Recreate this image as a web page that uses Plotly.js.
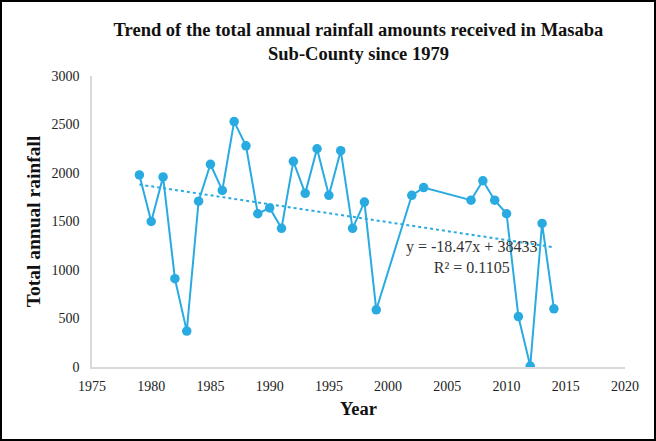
<!DOCTYPE html>
<html>
<head>
<meta charset="utf-8">
<script src="https://cdn.plot.ly/plotly-3.0.1.min.js"></script>
<style>
  html, body { margin: 0; padding: 0; background: #fff; }
  #frame { width: 656px; height: 441px; box-sizing: border-box; border: 2px solid #000; }
  #plotDiv { width: 652px; height: 437px; }
</style>
</head>
<body>
<div id="frame"><div id="plotDiv"></div></div>
<script>
// years with recorded totals (gaps are missing years)
const years = [1979, 1980, 1981, 1982, 1983, 1984, 1985, 1986, 1987, 1988,
    1989, 1990, 1991, 1992, 1993, 1994, 1995, 1996, 1997, 1998,
    1999, 2002, 2003, 2007, 2008, 2009, 2010, 2011, 2012, 2013, 2014];
const rainfall = [1980, 1500, 1960, 910, 370, 1710, 2090, 1820, 2530, 2280,
    1580, 1640, 1430, 2120, 1790, 2250, 1770, 2230, 1430, 1700,
    590, 1770, 1850, 1720, 1920, 1720, 1580, 520, 10, 1480, 600];

// linear trend as printed on the chart
const trendSlope = -18.47;
const trendIntercept = 38433;
const trendR2 = 0.1105;

const blue = '#29abe2';
const serif = '"Liberation Serif", "Times New Roman", serif';

const trendX = [years[0], years[years.length - 1]];
const trendY = trendX.map(x => trendSlope * x + trendIntercept);

const traceRain = {
    x: years,
    y: rainfall,
    mode: 'lines+markers',
    line: {color: blue, width: 2},
    marker: {color: blue, size: 9.5},
    showlegend: false,
    hoverinfo: 'x+y'
};
const traceTrend = {
    x: trendX,
    y: trendY,
    mode: 'lines',
    line: {color: blue, width: 2, dash: 'dot'},
    showlegend: false,
    hoverinfo: 'skip'
};

const layout = {
    width: 652,
    height: 437,
    margin: {l: 90, r: 29, t: 74, b: 72},
    paper_bgcolor: '#fff',
    plot_bgcolor: '#fff',
    font: {family: serif, size: 14, color: '#222'},
    title: {
        text: '<b>Trend of the total annual rainfall amounts received in Masaba<br>Sub-County since 1979</b>',
        font: {family: serif, size: 18.5, color: '#111'},
        x: 0.5, xref: 'paper', xanchor: 'center',
        y: 0.922, yref: 'container', yanchor: 'middle'
    },
    xaxis: {
        range: [1975, 2020],
        dtick: 5,
        tick0: 1975,
        showgrid: false,
        zeroline: false,
        showline: true,
        linecolor: '#d9d9d9',
        linewidth: 1.5,
        ticks: '',
        ticklabelstandoff: 5,
        tickfont: {family: serif, size: 14, color: '#222'},
        title: {text: '<b>Year</b>', font: {family: serif, size: 18.5, color: '#111'}, standoff: 10}
    },
    yaxis: {
        range: [0, 3000],
        dtick: 500,
        showgrid: false,
        zeroline: false,
        showline: true,
        linecolor: '#d9d9d9',
        linewidth: 1.5,
        ticks: '',
        ticklabelstandoff: 8,
        tickfont: {family: serif, size: 14, color: '#222'},
        title: {text: '<b>Total annual rainfall</b>', font: {family: serif, size: 19.5, color: '#111'}, standoff: 6}
    },
    annotations: [{
        x: 2007, y: 1134, xref: 'x', yref: 'y',
        text: 'y = ' + trendSlope + 'x + ' + trendIntercept + '<br>R² = ' + trendR2,
        showarrow: false,
        align: 'center',
        font: {family: serif, size: 16, color: '#333'}
    }]
};

Plotly.newPlot('plotDiv', [traceRain, traceTrend], layout, {displayModeBar: false}).catch(error => {
    console.error('Error in plot:', error);
});
</script>
</body>
</html>
